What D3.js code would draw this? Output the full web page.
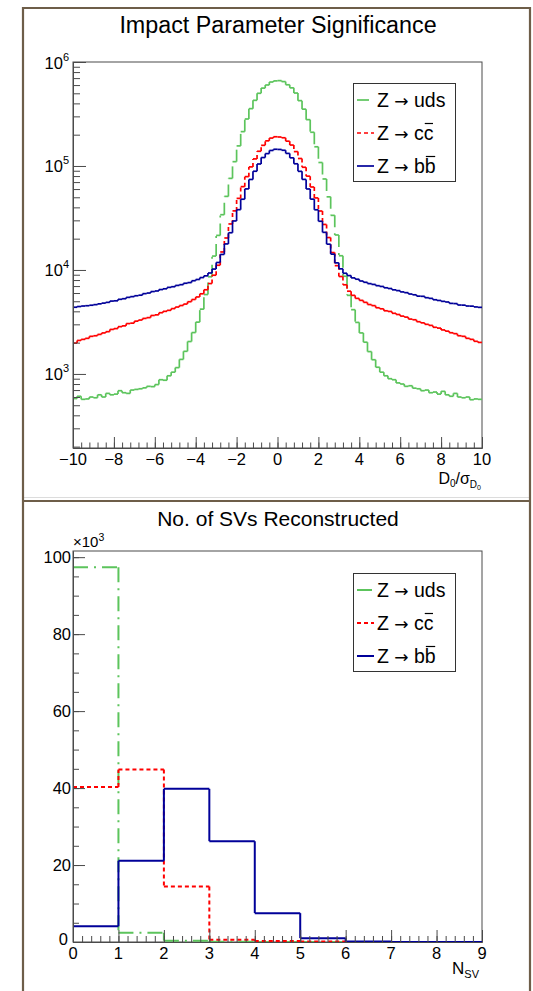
<!DOCTYPE html>
<html>
<head>
<meta charset="utf-8">
<script src="https://cdn.jsdelivr.net/npm/d3@7/dist/d3.min.js"></script>
<style>
  body { margin: 0; background: #fff; }
  svg { display: block; font-family: "Liberation Sans", Arial, sans-serif; }
</style>
</head>
<body>
<svg id="chart" width="533" height="991"></svg>
<script>
// ---- impact parameter significance, 100 bins from -10 to 10
const ipRange = [-10, 10];
const ipNBins = 100;
const ipUds = [
  580, 610, 570, 575, 600, 590, 630, 600, 650, 630,
  640, 690, 660, 650, 700, 710, 720, 735, 760, 755,
  790, 880, 870, 960, 1040, 1150, 1380, 1650, 2050, 2500,
  3150, 4200, 5800, 8600, 13600, 21500, 34000, 51000, 76000, 110000,
  156000, 214000, 283000, 356000, 428000, 500000, 561000, 601000, 642000, 658000,
  662000, 648000, 604000, 564000, 503000, 425000, 352000, 279000, 211000, 153000,
  108000, 75000, 50500, 33500, 21700, 13700, 8700, 5700, 4150, 3130,
  2480, 2020, 1640, 1370, 1160, 1040, 960, 900, 880, 820,
  800, 760, 770, 730, 720, 690, 700, 660, 670, 640,
  680, 630, 610, 650, 600, 590, 600, 565, 575, 570
];
const ipCc = [
  1980, 2100, 2150, 2200, 2300, 2330, 2400, 2480, 2550, 2680,
  2730, 2850, 2900, 3050, 3080, 3220, 3300, 3420, 3480, 3650,
  3700, 3880, 4000, 4090, 4250, 4400, 4550, 4700, 4950, 5200,
  5500, 5900, 6450, 7400, 8900, 11100, 14900, 20300, 27700, 37000,
  48800, 63300, 79000, 98000, 117000, 138500, 158000, 174500, 185500, 191000,
  190000, 186800, 173200, 159000, 137500, 118000, 97200, 79800, 62800, 49300,
  36900, 27400, 20500, 14700, 11000, 8650, 7200, 6250, 5700, 5330,
  5100, 4880, 4650, 4540, 4330, 4230, 4050, 3990, 3830, 3730,
  3600, 3520, 3370, 3320, 3180, 3100, 3000, 2930, 2810, 2760,
  2650, 2580, 2490, 2440, 2330, 2300, 2200, 2150, 2060, 2010
];
const ipBb = [
  4380, 4450, 4500, 4530, 4580, 4640, 4720, 4800, 4880, 5020,
  5050, 5220, 5290, 5450, 5540, 5650, 5720, 5920, 6000, 6200,
  6280, 6480, 6590, 6800, 6900, 7100, 7220, 7450, 7560, 7880,
  8100, 8450, 8780, 9350, 10200, 11800, 14100, 17800, 22800, 29600,
  38000, 47900, 60200, 74200, 89000, 104500, 120500, 131500, 141000, 144800,
  144200, 141600, 132100, 119800, 105000, 88800, 74300, 60100, 48000, 37900,
  29400, 23000, 17700, 14200, 11700, 10250, 9300, 8830, 8390, 8150,
  7830, 7610, 7390, 7260, 7060, 6940, 6740, 6630, 6440, 6330,
  6150, 6050, 5870, 5770, 5600, 5580, 5410, 5330, 5170, 5090,
  4990, 4920, 4770, 4750, 4600, 4590, 4500, 4490, 4410, 4370
];
const ipXTicks = [-10, -8, -6, -4, -2, 0, 2, 4, 6, 8, 10];
const ipYTicks = [1e3, 1e4, 1e5, 1e6];

// ---- number of secondary vertices, in units of 10^3
const svEdges = [0, 1, 2, 3, 4, 5, 6, 7, 8, 9];
const svUds = [97.4, 2.4, 0.35, 0.08, 0.02, 0, 0, 0, 0];
const svCc = [40.3, 44.8, 14.4, 0.6, 0.25, 0.1, 0.02, 0, 0];
const svBb = [4.1, 21.1, 39.8, 26.2, 7.5, 1.0, 0.1, 0.02, 0];
const svXTicks = [0, 1, 2, 3, 4, 5, 6, 7, 8, 9];
const svYTicks = [0, 20, 40, 60, 80, 100];

const seriesKeys = ["uds", "cc", "bb"];
const legendQuarks = ["uds", "cc", "bb"];
const legendBarred = [false, true, true];

const colors = {uds: "#5cc45c", cc: "#ff0000", bb: "#000099"};
const dashTop = {uds: "12,6,2,6", cc: "4,3", bb: null};
const dashBottom = {uds: "15,6,2,6", cc: "4,3", bb: null};

const svg = d3.select("#chart");
const frameColor = "#6e5e49";
const axisColor = "#4a4a4a";
const labelSize = 16.5;

// outer brown frame with divider
svg.append("rect").attr("x", 0).attr("y", 0).attr("width", 533).attr("height", 991).attr("fill", "#fff");
svg.append("line").attr("x1", 24).attr("x2", 529).attr("y1", 497.5).attr("y2", 497.5)
  .attr("stroke", "#dcdcdc").attr("stroke-width", 1);
svg.append("path")
  .attr("d", "M23,991 V8 H530 V991 M23,501 H530")
  .attr("fill", "none")
  .attr("stroke", frameColor)
  .attr("stroke-width", 2.2);

// split a histogram into horizontal + vertical pieces (dash pattern restarts per piece)
function stepSegments(values, edges, x, y) {
  const segs = [];
  values.forEach((v, i) => {
    segs.push([x(edges[i]), y(v), x(edges[i + 1]), y(v)]);
    if (i < values.length - 1) {
      segs.push([x(edges[i + 1]), y(v), x(edges[i + 1]), y(values[i + 1])]);
    }
  });
  return segs;
}

function drawHist(g, segs, color, dash, width) {
  g.append("g")
    .selectAll("line")
    .data(segs)
    .join("line")
    .attr("x1", d => d[0]).attr("y1", d => d[1])
    .attr("x2", d => d[2]).attr("y2", d => d[3])
    .attr("stroke", color)
    .attr("stroke-width", width)
    .attr("stroke-dasharray", dash)
    .attr("stroke-linecap", "butt");
}

function styleAxis(sel) {
  sel.select(".domain").attr("stroke", axisColor);
  sel.selectAll(".tick line").attr("stroke", axisColor);
  sel.selectAll(".tick text").remove();
}

function drawLegend(top, dashes, width) {
  const lg = svg.append("g");
  lg.append("rect")
    .attr("x", 353.5).attr("y", top + 0.5)
    .attr("width", 102).attr("height", 98)
    .attr("fill", "#fff").attr("stroke", "#333").attr("stroke-width", 1);
  seriesKeys.forEach((k, i) => {
    const cy = top + 17 + i * 33;
    lg.append("line")
      .attr("x1", 357).attr("x2", 374).attr("y1", cy).attr("y2", cy)
      .attr("stroke", colors[k]).attr("stroke-width", width)
      .attr("stroke-dasharray", dashes[k]);
    const t = lg.append("text")
      .attr("x", 377).attr("y", cy + 7)
      .attr("font-size", 19.5).attr("fill", "#000");
    t.append("tspan").text("Z ");
    t.append("tspan").attr("font-family", "DejaVu Sans").attr("font-size", 17).text("\u2192");
    t.append("tspan").text(" " + legendQuarks[i]);
    if (legendBarred[i]) {
      const n = t.text().length;
      const box = t.node().getExtentOfChar(n - 1);
      lg.append("line")
        .attr("x1", box.x + 1).attr("x2", box.x + box.width - 0.5)
        .attr("y1", cy - 9.5).attr("y2", cy - 9.5)
        .attr("stroke", "#000").attr("stroke-width", 1.2);
    }
  });
}

// ================= top panel =================
const ipEdges = d3.range(ipNBins + 1).map(i => ipRange[0] + i * (ipRange[1] - ipRange[0]) / ipNBins);
const xIp = d3.scaleLinear().domain(ipRange).range([73, 482]);
const yIp = d3.scaleLog().domain([194, 1e6]).range([448, 62]);

svg.append("text")
  .attr("x", 278).attr("y", 33)
  .attr("text-anchor", "middle")
  .attr("font-size", 23.3)
  .text("Impact Parameter Significance");

svg.append("rect")
  .attr("x", 73).attr("y", 62).attr("width", 409).attr("height", 386)
  .attr("fill", "none").attr("stroke", axisColor).attr("stroke-width", 1);

const topG = svg.append("g");
drawHist(topG, stepSegments(ipUds, ipEdges, xIp, yIp), colors.uds, dashTop.uds, 1.7);
drawHist(topG, stepSegments(ipCc, ipEdges, xIp, yIp), colors.cc, dashTop.cc, 1.7);
drawHist(topG, stepSegments(ipBb, ipEdges, xIp, yIp), colors.bb, dashTop.bb, 1.7);

// x axis (ticks point inward)
svg.append("g").attr("transform", "translate(0,448)")
  .call(d3.axisBottom(xIp).tickValues(ipXTicks).tickSize(-11).tickSizeOuter(0))
  .call(styleAxis);
svg.append("g").attr("transform", "translate(0,448)")
  .call(d3.axisBottom(xIp).tickValues(d3.range(-10, 10.001, 0.4)).tickSize(-5.5).tickSizeOuter(0))
  .call(styleAxis);
svg.append("g")
  .selectAll("text")
  .data(ipXTicks)
  .join("text")
  .attr("x", d => xIp(d))
  .attr("y", 465)
  .attr("text-anchor", "middle")
  .attr("font-size", labelSize)
  .text(d => d < 0 ? "\u2212" + Math.abs(d) : d);

// y axis, log
svg.append("g").attr("transform", "translate(73,0)")
  .call(d3.axisLeft(yIp).tickValues(ipYTicks).tickSize(-13).tickSizeOuter(0))
  .call(styleAxis);
svg.append("g").attr("transform", "translate(73,0)")
  .call(d3.axisLeft(yIp).tickValues(yIp.ticks().filter(v => !ipYTicks.includes(v))).tickSize(-7).tickSizeOuter(0))
  .call(styleAxis);
const yLab = svg.append("g")
  .selectAll("text")
  .data(ipYTicks)
  .join("text")
  .attr("x", 69)
  .attr("y", d => yIp(d) + 6.5)
  .attr("text-anchor", "end")
  .attr("font-size", labelSize);
yLab.append("tspan").text("10");
yLab.append("tspan").attr("font-size", 11).attr("dy", -8).text(d => Math.round(Math.log10(d)));

// x title D0/sigma_D0
const ipTitle = svg.append("text")
  .attr("x", 481).attr("y", 484)
  .attr("text-anchor", "end")
  .attr("font-size", 16);
ipTitle.append("tspan").text("D");
ipTitle.append("tspan").attr("font-size", 10).attr("dy", 3).text("0");
ipTitle.append("tspan").attr("dy", -3).text("/\u03c3");
ipTitle.append("tspan").attr("font-size", 10).attr("dy", 4).text("D");
ipTitle.append("tspan").attr("font-size", 7).attr("dy", 2).text("0");

drawLegend(83, dashTop, 1.7);

// ================= bottom panel =================
const xSv = d3.scaleLinear().domain([0, 9]).range([73, 482]);
const ySv = d3.scaleLinear().domain([0, 101.6]).range([942, 551]);

svg.append("text")
  .attr("x", 278).attr("y", 526)
  .attr("text-anchor", "middle")
  .attr("font-size", 21)
  .text("No. of SVs Reconstructed");

svg.append("rect")
  .attr("x", 73).attr("y", 551).attr("width", 409).attr("height", 391)
  .attr("fill", "none").attr("stroke", axisColor).attr("stroke-width", 1);

const botG = svg.append("g");
drawHist(botG, stepSegments(svUds, svEdges, xSv, ySv), colors.uds, dashBottom.uds, 2);
drawHist(botG, stepSegments(svCc, svEdges, xSv, ySv), colors.cc, dashBottom.cc, 2);
drawHist(botG, stepSegments(svBb, svEdges, xSv, ySv), colors.bb, dashBottom.bb, 2);

svg.append("g").attr("transform", "translate(0,942)")
  .call(d3.axisBottom(xSv).tickValues(svXTicks).tickSize(-12).tickSizeOuter(0))
  .call(styleAxis);
svg.append("g").attr("transform", "translate(0,942)")
  .call(d3.axisBottom(xSv).tickValues(d3.range(0, 9.001, 0.2)).tickSize(-6).tickSizeOuter(0))
  .call(styleAxis);
svg.append("g")
  .selectAll("text")
  .data(svXTicks)
  .join("text")
  .attr("x", d => xSv(d))
  .attr("y", 959)
  .attr("text-anchor", "middle")
  .attr("font-size", labelSize)
  .text(d => d);

svg.append("g").attr("transform", "translate(73,0)")
  .call(d3.axisLeft(ySv).tickValues(svYTicks).tickSize(-12).tickSizeOuter(0))
  .call(styleAxis);
svg.append("g").attr("transform", "translate(73,0)")
  .call(d3.axisLeft(ySv).tickValues(d3.range(0, 101, 5)).tickSize(-6).tickSizeOuter(0))
  .call(styleAxis);
svg.append("g")
  .selectAll("text")
  .data(svYTicks)
  .join("text")
  .attr("x", d => d === 0 ? 68 : 71)
  .attr("y", d => ySv(d) + (d === 0 ? 3 : 5.5))
  .attr("text-anchor", "end")
  .attr("font-size", labelSize)
  .text(d => d);

const mult = svg.append("text")
  .attr("x", 73).attr("y", 547)
  .attr("font-size", 15);
mult.append("tspan").text("\u00d710");
mult.append("tspan").attr("font-size", 10.5).attr("dy", -6).text("3");

const svTitle = svg.append("text")
  .attr("x", 479).attr("y", 974)
  .attr("text-anchor", "end")
  .attr("font-size", 17);
svTitle.append("tspan").text("N");
svTitle.append("tspan").attr("font-size", 11).attr("dy", 4).text("SV");

drawLegend(573, dashBottom, 2);
</script>
</body>
</html>
